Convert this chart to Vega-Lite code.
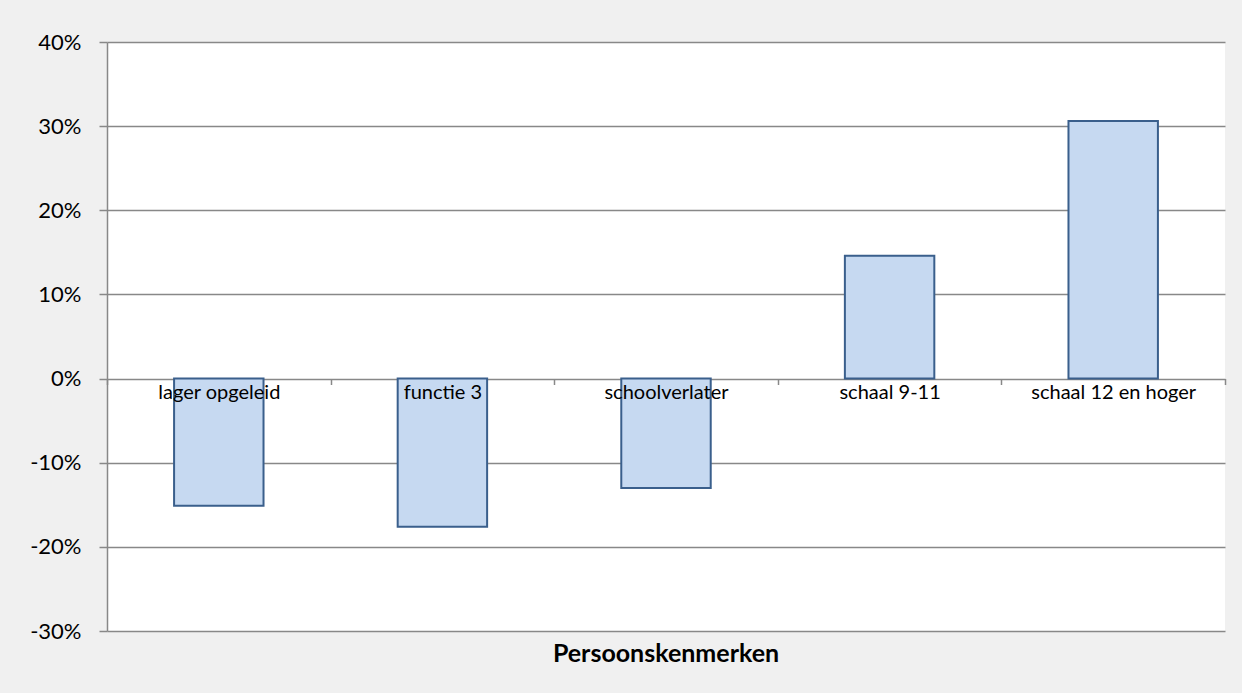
{
  "$schema": "https://vega.github.io/schema/vega-lite/v6.json",
  "width": 1118,
  "height": 589,
  "autosize": {"type": "none"},
  "padding": {"left": 107, "top": 42, "right": 17, "bottom": 62},
  "background": "#f0f0f0",
  "title": {"text": "Persoonskenmerken", "orient": "bottom", "font": "Lato", "fontSize": 25, "fontWeight": "bold", "color": "#000000", "offset": 0, "anchor": "middle"},
  "config": {
    "view": {"fill": "#ffffff", "stroke": null},
    "font": "Lato"
  },
  "data": {
    "values": [
      {"cat": "lager opgeleid", "value": -0.151},
      {"cat": "functie 3", "value": -0.176},
      {"cat": "schoolverlater", "value": -0.130},
      {"cat": "schaal 9-11", "value": 0.146},
      {"cat": "schaal 12 en hoger", "value": 0.306}
    ]
  },
  "mark": {"type": "bar", "fill": "#c6d9f1", "stroke": "#3a5f8c", "strokeWidth": 2, "width": {"band": 0.4}},
  "encoding": {
    "x": {
      "field": "cat", "type": "nominal", "sort": null,
      "scale": {"paddingInner": 0, "paddingOuter": 0},
      "axis": {
        "orient": "bottom", "offset": -252.5, "title": null, "labelAngle": 0,
        "domain": false, "ticks": true, "tickBand": "extent", "tickColor": "#888888", "tickSize": 6, "tickWidth": 1.5,
        "labelPadding": -2, "zindex": 2,
        "labelFontSize": 20, "labelColor": "#000000", "labelFont": "Lato"
      }
    },
    "y": {
      "field": "value", "type": "quantitative",
      "scale": {"domain": [-0.3, 0.4], "nice": false, "zero": false},
      "axis": {
        "title": null, "values": [-0.3, -0.2, -0.1, 0, 0.1, 0.2, 0.3, 0.4],
        "labelExpr": "replace(format(datum.value, '.0%'), '−', '-')",
        "grid": true, "gridColor": "#888888", "gridWidth": 1.5,
        "domain": true, "domainColor": "#888888", "domainWidth": 1.5,
        "ticks": true, "tickColor": "#888888", "tickSize": 8, "tickWidth": 1.5,
        "labelFontSize": 22, "labelColor": "#000000", "labelPadding": 18, "labelFont": "Lato"
      }
    }
  }
}
